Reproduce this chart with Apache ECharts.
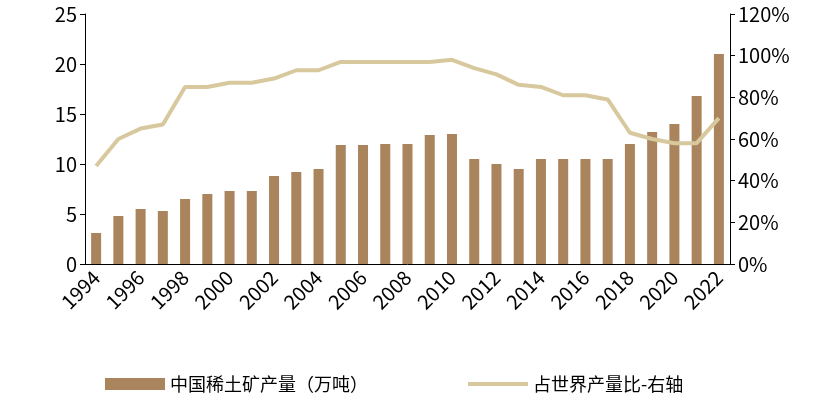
<!DOCTYPE html>
<html><head><meta charset="utf-8">
<script src="https://cdn.jsdelivr.net/npm/echarts@6/dist/echarts.min.js"></script>
<style>body{margin:0;background:#fff}#c{width:830px;height:406px}</style>
</head><body><div id="c"></div>
<script>
var years = [];
for (var y = 1994; y <= 2022; y++) years.push(String(y));
var output = [3.1, 4.8, 5.5, 5.3, 6.5, 7.0, 7.3, 7.3, 8.8, 9.2, 9.5, 11.9, 11.9, 12.0, 12.0, 12.9, 13.0,
    10.5, 10.0, 9.5, 10.5, 10.5, 10.5, 10.5, 12.0, 13.2, 14.0, 16.8, 21.0];
var share = [47, 60, 65, 67, 85, 85, 87, 87, 89, 93, 93, 97, 97, 97, 97, 97, 98,
    94, 91, 86, 85, 81, 81, 79, 63, 60, 58, 58, 70];

var chart = echarts.init(document.getElementById('c'));
var font = {fontSize: 20, color: '#000', fontFamily: 'Noto Sans CJK SC'};
chart.setOption({
    animation: false,
    grid: {left: 85, right: 100, top: 14, bottom: 142},
    legend: {
        bottom: 8, left: 100, itemGap: 100, itemWidth: 60, itemHeight: 12,
        textStyle: {fontSize: 18, color: '#000', fontFamily: 'Noto Sans CJK SC'},
        data: [{name: '中国稀土矿产量（万吨）', icon: 'rect'},
            {name: '占世界产量比-右轴', icon: 'path://M0,0H60V4H0Z', itemStyle: {color: '#d8c89e'}}]
    },
    xAxis: {
        type: 'category', data: years,
        axisLine: {lineStyle: {color: '#000'}}, axisTick: {show: false},
        axisLabel: Object.assign({rotate: 45, interval: 1, margin: 10}, font)
    },
    yAxis: [
        {type: 'value', min: 0, max: 25, interval: 5, splitLine: {show: false},
            axisLine: {show: true, lineStyle: {color: '#000'}}, axisTick: {show: true},
            axisLabel: font},
        {type: 'value', min: 0, max: 120, interval: 20, splitLine: {show: false},
            axisLine: {show: true, lineStyle: {color: '#000'}}, axisTick: {show: true},
            axisLabel: Object.assign({formatter: '{value}%'}, font)}
    ],
    series: [
        {name: '中国稀土矿产量（万吨）', type: 'bar', data: output, barWidth: '45%',
            itemStyle: {color: '#a9845c'}},
        {name: '占世界产量比-右轴', type: 'line', yAxisIndex: 1, data: share, symbol: 'none',
            lineStyle: {color: '#d8c89e', width: 4}, itemStyle: {color: '#d8c89e'}}
    ]
});
</script></body></html>
